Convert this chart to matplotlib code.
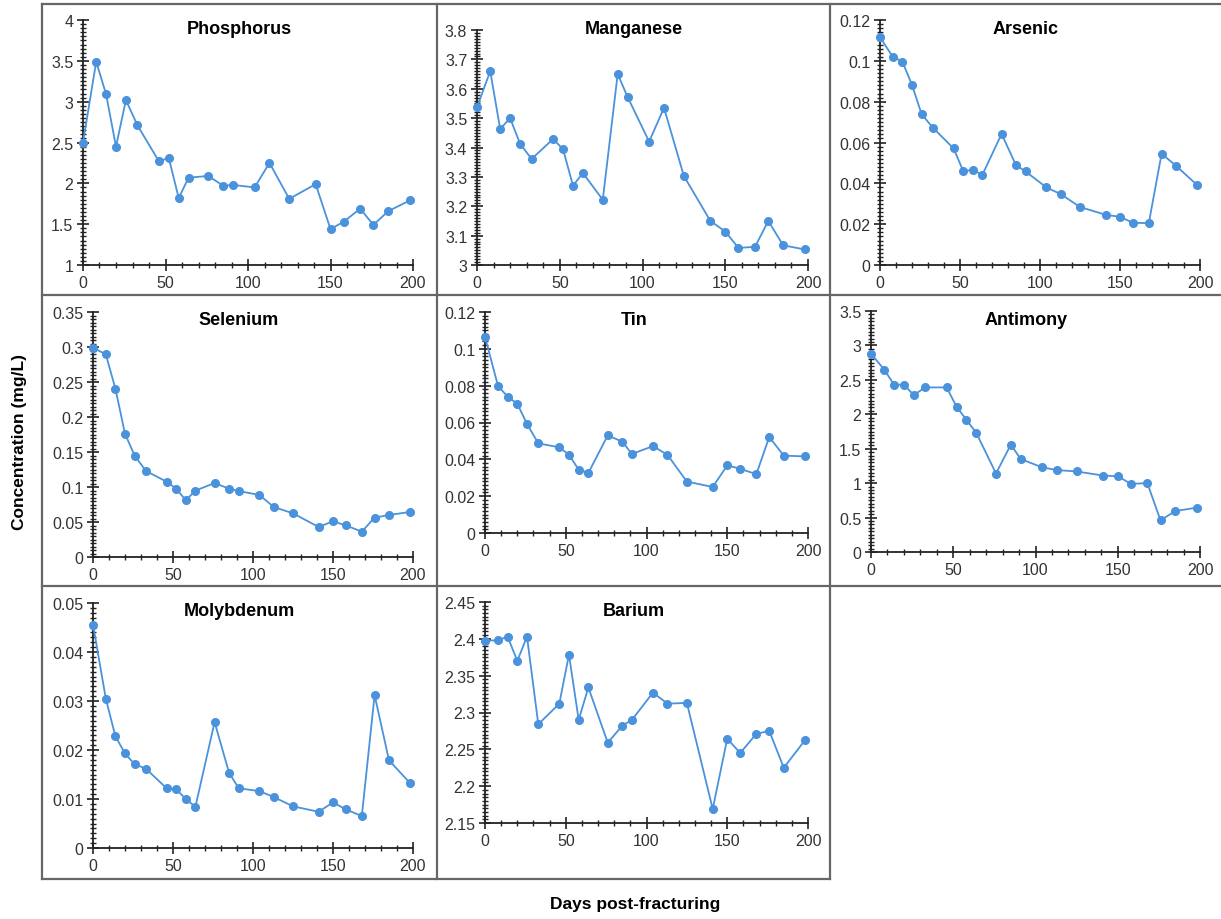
import matplotlib.pyplot as plt
import numpy as np
from matplotlib.lines import Line2D
from matplotlib.ticker import MultipleLocator, AutoMinorLocator, FuncFormatter

plt.rcParams['font.family'] = ['Liberation Sans', 'DejaVu Sans']

days = [0, 8, 14, 20, 26, 33, 46, 52, 58, 64, 76, 85, 91, 104, 113, 125, 141, 150, 158, 168, 176, 185, 198]

phosphorus = [2.50, 3.49, 3.09, 2.45, 3.02, 2.71, 2.27, 2.31, 1.82, 2.07, 2.09, 1.97, 1.98, 1.95, 2.25, 1.81,
              1.99, 1.44, 1.53, 1.69, 1.49, 1.66, 1.79]
manganese = [3.537, 3.66, 3.463, 3.50, 3.413, 3.361, 3.429, 3.394, 3.27, 3.313, 3.222, 3.65, 3.572, 3.42, 3.535,
             3.303, 3.15, 3.114, 3.058, 3.062, 3.15, 3.067, 3.053]
arsenic = [0.1115, 0.102, 0.0996, 0.0882, 0.0739, 0.0673, 0.0571, 0.046, 0.0466, 0.0442, 0.0642, 0.0489, 0.0458,
           0.038, 0.0347, 0.0284, 0.0246, 0.0236, 0.0207, 0.0205, 0.0545, 0.0486, 0.0393]
selenium = [0.299, 0.2895, 0.2405, 0.176, 0.145, 0.123, 0.1076, 0.0976, 0.081, 0.0948, 0.1057, 0.0976, 0.0943,
            0.0886, 0.0714, 0.0624, 0.0429, 0.051, 0.0452, 0.0362, 0.0562, 0.060, 0.0643]
tin = [0.1066, 0.080, 0.074, 0.0702, 0.0592, 0.0487, 0.0465, 0.0425, 0.0344, 0.0326, 0.053, 0.0496, 0.0429,
       0.0472, 0.0424, 0.0279, 0.025, 0.0367, 0.0349, 0.0319, 0.0521, 0.042, 0.0416]
antimony = [2.88, 2.65, 2.43, 2.43, 2.28, 2.39, 2.39, 2.11, 1.92, 1.73, 1.14, 1.56, 1.35, 1.23, 1.19, 1.17,
            1.11, 1.10, 0.99, 1.00, 0.46, 0.595, 0.644]
molybdenum = [0.0456, 0.0305, 0.0228, 0.0193, 0.0171, 0.0162, 0.0122, 0.012, 0.010, 0.0084, 0.0257, 0.0154,
              0.0122, 0.0116, 0.0104, 0.0085, 0.0074, 0.0093, 0.0079, 0.0065, 0.0312, 0.0179, 0.0133]
barium = [2.3975, 2.398, 2.403, 2.370, 2.403, 2.284, 2.312, 2.3785, 2.290, 2.334, 2.259, 2.282, 2.29, 2.327,
          2.312, 2.313, 2.169, 2.2645, 2.245, 2.271, 2.275, 2.225, 2.262]

names = ['Phosphorus', 'Manganese', 'Arsenic', 'Selenium', 'Tin', 'Antimony', 'Molybdenum', 'Barium']
series = [phosphorus, manganese, arsenic, selenium, tin, antimony, molybdenum, barium]
ylims = [(1, 4), (3, 3.8), (0, 0.12), (0, 0.35), (0, 0.12), (0, 3.5), (0, 0.05), (2.15, 2.45)]
ysteps = [0.5, 0.1, 0.02, 0.05, 0.02, 0.5, 0.01, 0.05]

W, H = 1221, 920
# axes boxes in pixels: left, right, top, bottom
boxes = [(83, 413, 21, 266), (477, 808, 31, 266), (880, 1200, 21, 266),
         (93, 413, 313, 558), (485, 808, 313, 534), (871, 1200, 312, 553),
         (93, 413, 604, 849), (485, 808, 603, 824)]
# panel title centers (x, y) in pixels
title_pos = [(239, 29), (634, 29), (1026, 29),
             (239, 321), (634, 321), (1026, 321),
             (239, 612), (634, 612)]

color = '#4a92db'
fig = plt.figure(figsize=(W / 100, H / 100), dpi=100)

for i in range(8):
    l, r, t, b = boxes[i]
    ax = fig.add_axes([l / W, 1 - b / H, (r - l) / W, (b - t) / H])
    ax.plot(days, series[i], color=color, lw=1.3, marker='o', ms=5.5, mec=color, mfc=color,
            clip_on=False, zorder=5)
    ax.set_xlim(0, 200)
    ax.set_ylim(*ylims[i])
    ax.xaxis.set_major_locator(MultipleLocator(50))
    ax.xaxis.set_minor_locator(MultipleLocator(10))
    ax.yaxis.set_major_locator(MultipleLocator(ysteps[i]))
    ax.yaxis.set_minor_locator(AutoMinorLocator(10))
    ax.yaxis.set_major_formatter(FuncFormatter(lambda v, p: ('%.3f' % v).rstrip('0').rstrip('.')))
    for s in ['top', 'right']:
        ax.spines[s].set_visible(False)
    for s in ['left', 'bottom']:
        ax.spines[s].set_color('#222222')
        ax.spines[s].set_linewidth(1.3)
    ax.tick_params(which='major', direction='inout', length=8, width=1.2, labelsize=11.5,
                   color='#222222', labelcolor='#333333', pad=3)
    ax.tick_params(which='minor', direction='inout', length=4, width=1.0, color='#222222')
    ax.patch.set_alpha(0)
    x, y = title_pos[i]
    fig.text(x / W, 1 - y / H, names[i], ha='center', va='center', fontsize=13, fontweight='bold')

# panel borders
def hline(y, x0, x1):
    fig.add_artist(Line2D([x0 / W, x1 / W], [1 - y / H, 1 - y / H], color='#666666', lw=1.6))

def vline(x, y0, y1):
    fig.add_artist(Line2D([x / W, x / W], [1 - y0 / H, 1 - y1 / H], color='#666666', lw=1.6))

hline(5, 42, 1221)
hline(296, 42, 1221)
hline(587, 42, 1221)
hline(880, 42, 830)
vline(42, 5, 880)
vline(437, 5, 880)
vline(830, 5, 880)

fig.text(20 / W, 1 - 442 / H, 'Concentration (mg/L)', rotation=90, ha='center', va='center',
         fontsize=12.5, fontweight='bold')
fig.text(635 / W, 1 - 905 / H, 'Days post-fracturing', ha='center', va='center',
         fontsize=12.5, fontweight='bold')

fig.savefig('out.png', dpi=100)
